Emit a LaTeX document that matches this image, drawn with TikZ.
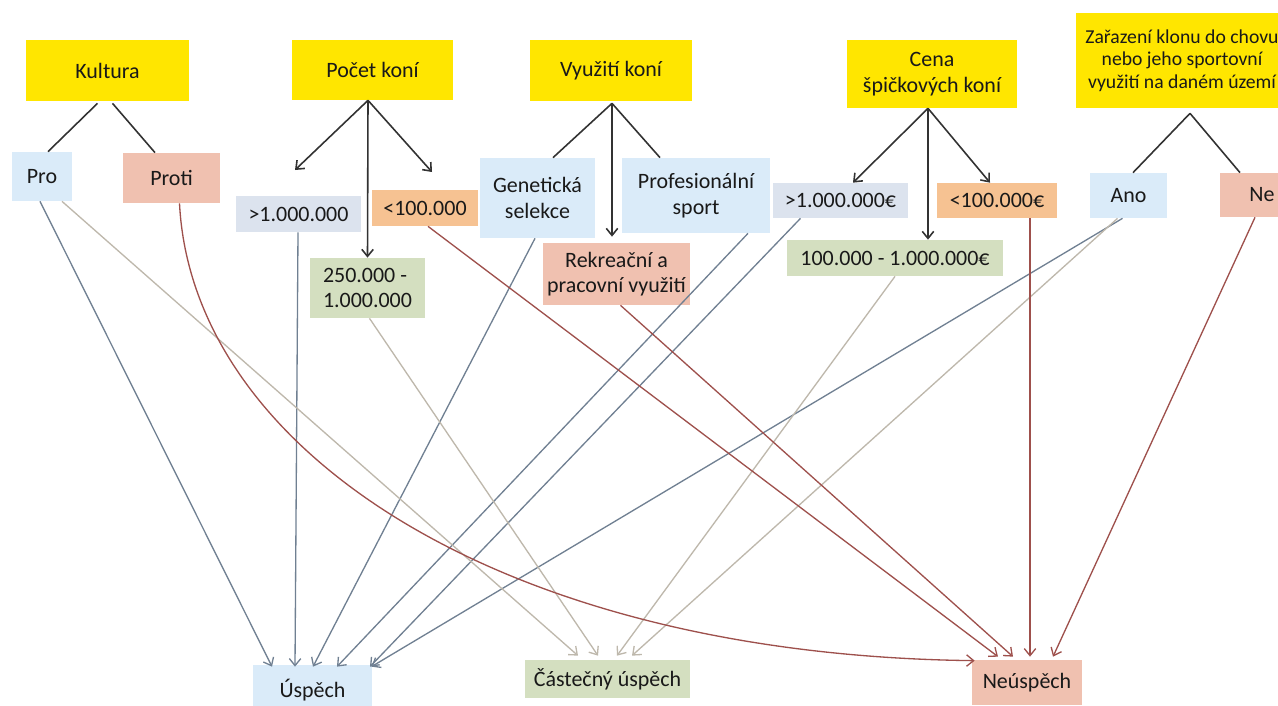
\documentclass[tikz,border=0pt]{standalone}
\usepackage{fontspec}
\setmainfont{Carlito}
\usetikzlibrary{arrows.meta,calc}
\definecolor{yel}{RGB}{255,230,0}
\definecolor{lblue}{RGB}{218,235,249}
\definecolor{salmon}{RGB}{240,193,176}
\definecolor{grayblue}{RGB}{220,227,238}
\definecolor{orng}{RGB}{246,194,146}
\definecolor{lgreen}{RGB}{212,223,192}
\definecolor{txt}{RGB}{25,25,25}
\definecolor{uscol}{RGB}{112,128,146}
\definecolor{cacol}{RGB}{190,184,172}
\definecolor{necol}{RGB}{158,80,76}
\definecolor{trcol}{RGB}{50,50,50}
\begin{document}
\begin{tikzpicture}[x=0.02cm,y=-0.02cm,
  box/.style={inner sep=0pt, align=center, text=txt, font=\fontsize{12.5}{14.5}\selectfont},
  sz/.style 2 args={minimum width=#1*0.02cm, minimum height=#2*0.02cm},
  ybox/.style={box, fill=yel},
  tip/.style={-{Straight Barb[length=4pt,width=6.5pt]}},
  tree/.style={draw=trcol, line width=0.9pt},
  tarr/.style={tree, tip},
  usl/.style={draw=uscol, line width=0.75pt, tip},
  cal/.style={draw=cacol, line width=0.75pt, tip},
  nel/.style={draw=necol, line width=0.75pt, tip}]
\useasboundingbox[fill=white] (0,0) rectangle (1278,706);

% top yellow nodes
\node[ybox, sz={163}{61}] (kul) at (107.5,70.5) {Kultura};
\node[ybox, sz={161}{60}] (poc) at (372.5,70) {Počet koní};
\node[ybox, sz={162}{61}] (vyu) at (611,70.5) {Využití koní};
\node[ybox, sz={170}{68}] (cena) at (932,74) {Cena\\špičkových koní};
\node[ybox, sz={212}{95}, font=\fontsize{11.2}{12.8}\selectfont] (zar) at (1182,60.5) {Zařazení klonu do chovu\\nebo jeho sportovní\\využití na daném území};

% second level
\node[box, fill=lblue, sz={60}{49}] (pro) at (42,176.5) {Pro};
\node[box, fill=salmon, sz={97}{50}] (proti) at (171.5,178) {Proti};
\node[box, fill=grayblue, sz={125}{36}] (gt1) at (298.5,214) {>1.000.000};
\node[box, fill=orng, sz={106}{36}] (lt1) at (425,208) {<100.000};
\node[box, fill=lgreen, sz={115}{60}, align=left] (mid1) at (367.5,288) {250.000 -\\1.000.000};
\node[box, fill=lblue, sz={115}{80}] (gen) at (537.5,198) {Genetická\\selekce};
\node[box, fill=lblue, sz={148}{75}] (prof) at (696,195.5) {Profesionální\\sport};
\node[box, fill=salmon, sz={147}{62}] (rek) at (616.5,274) {Rekreační a\\pracovní využití};
\node[box, fill=grayblue, sz={135}{35}] (gt2) at (840.5,200.5) {>1.000.000€};
\node[box, fill=orng, sz={120}{35}] (lt2) at (997,200.5) {<100.000€};
\node[box, fill=lgreen, sz={216}{36}] (mid2) at (895,258) {100.000 - 1.000.000€};
\node[box, fill=lblue, sz={77}{45}] (ano) at (1128.5,195.5) {Ano};
\node[box, fill=salmon, sz={84}{44}] (ne) at (1262,195) {Ne};

% outcomes
\node[box, fill=lblue, sz={119}{50}] (usp) at (312.5,690) {Úspěch};
\node[box, fill=lgreen, sz={165}{38}] (cast) at (607.5,679) {Částečný úspěch};
\node[box, fill=salmon, sz={110}{45}] (neu) at (1027,682.5) {Neúspěch};

% free ends of the arrows from Počet koní
\coordinate (pa) at (295,170);
\coordinate (pb) at (432,172);

% tree connectors
\draw[tree] ($(kul.south)+(-10,2)$) -- ($(pro.north)+(6,0)$);
\draw[tree] ($(kul.south)+(5,2)$) -- ($(proti.north)+(-16.5,0)$);
\draw[tarr] ($(poc.south)+(-4.5,0)$) -- (pa);
\draw[tarr] ($(poc.south)+(-4.5,0)$) -- (mid1.north);
\draw[tarr] ($(poc.south)+(-4.5,0)$) -- (pb);
\draw[tree] ($(vyu.south)+(1,2)$) -- ($(gen.north)+(15.5,0)$);
\draw[tree] ($(vyu.south)+(1,2)$) -- ($(prof.north)+(-36,0)$);
\draw[tarr] ($(vyu.south)+(1,2)$) -- ($(rek.north)+(-4.5,-6)$);
\draw[tarr] ($(cena.south)+(-4,0)$) -- ($(gt2.north)+(12.5,0)$);
\draw[tarr] ($(cena.south)+(-4,0)$) -- ($(mid2.north)+(33,0)$);
\draw[tarr] ($(cena.south)+(-4,0)$) -- ($(lt2.north)+(-7,0)$);
\draw[tree] ($(zar.south)+(8,5)$) -- ($(ano.north)+(4.5,0)$);
\draw[tree] ($(zar.south)+(8,5)$) -- ($(ne.north)+(-22,0)$);

% to Úspěch
\draw[usl] ($(pro.south)+(-2,0)$) -- ($(usp.north)+(-40.5,2)$);
\draw[usl] ($(gt1.south)+(-0.5,0)$) -- ($(usp.north)+(-17.5,2)$);
\draw[usl] ($(gen.south)+(-2.5,0)$) -- ($(usp.north)+(0.5,2)$);
\draw[usl] ($(prof.south)+(52,0)$) -- ($(usp.north)+(24.5,2)$);
\draw[usl] ($(gt2.south)+(-40,0)$) -- ($(usp.north)+(57.5,2)$);
\draw[usl] ($(ano.south)+(-6,0)$) -- ($(usp.north)+(59,2)$);

% to Částečný úspěch
\draw[cal] ($(pro.south)+(20,0)$) -- ($(cast.north)+(-29.5,-4)$);
\draw[cal] ($(mid1.south)+(2,0)$) -- ($(cast.north)+(-9.5,-4)$);
\draw[cal] (mid2.south) -- ($(cast.north)+(9.5,-4)$);
\draw[cal] ($(ano.south)+(-11,0)$) -- ($(cast.north)+(24.5,-4)$);

% to Neúspěch
\draw[nel] ($(lt1.south)+(3,0)$) -- ($(neu.north)+(-29,-3)$);
\draw[nel] ($(rek.south)+(4,0)$) -- ($(neu.north)+(-14,-3)$);
\draw[nel] ($(lt2.south)+(33,0)$) -- ($(neu.north)+(3,-3)$);
\draw[nel] ($(ne.south)+(-7,0)$) -- ($(neu.north)+(26,-3)$);
\draw[nel] ($(proti.south)+(8,0)$) .. controls (192,450) and (500,655) .. ($(neu.north west)+(3,1)$);
\end{tikzpicture}
\end{document}
